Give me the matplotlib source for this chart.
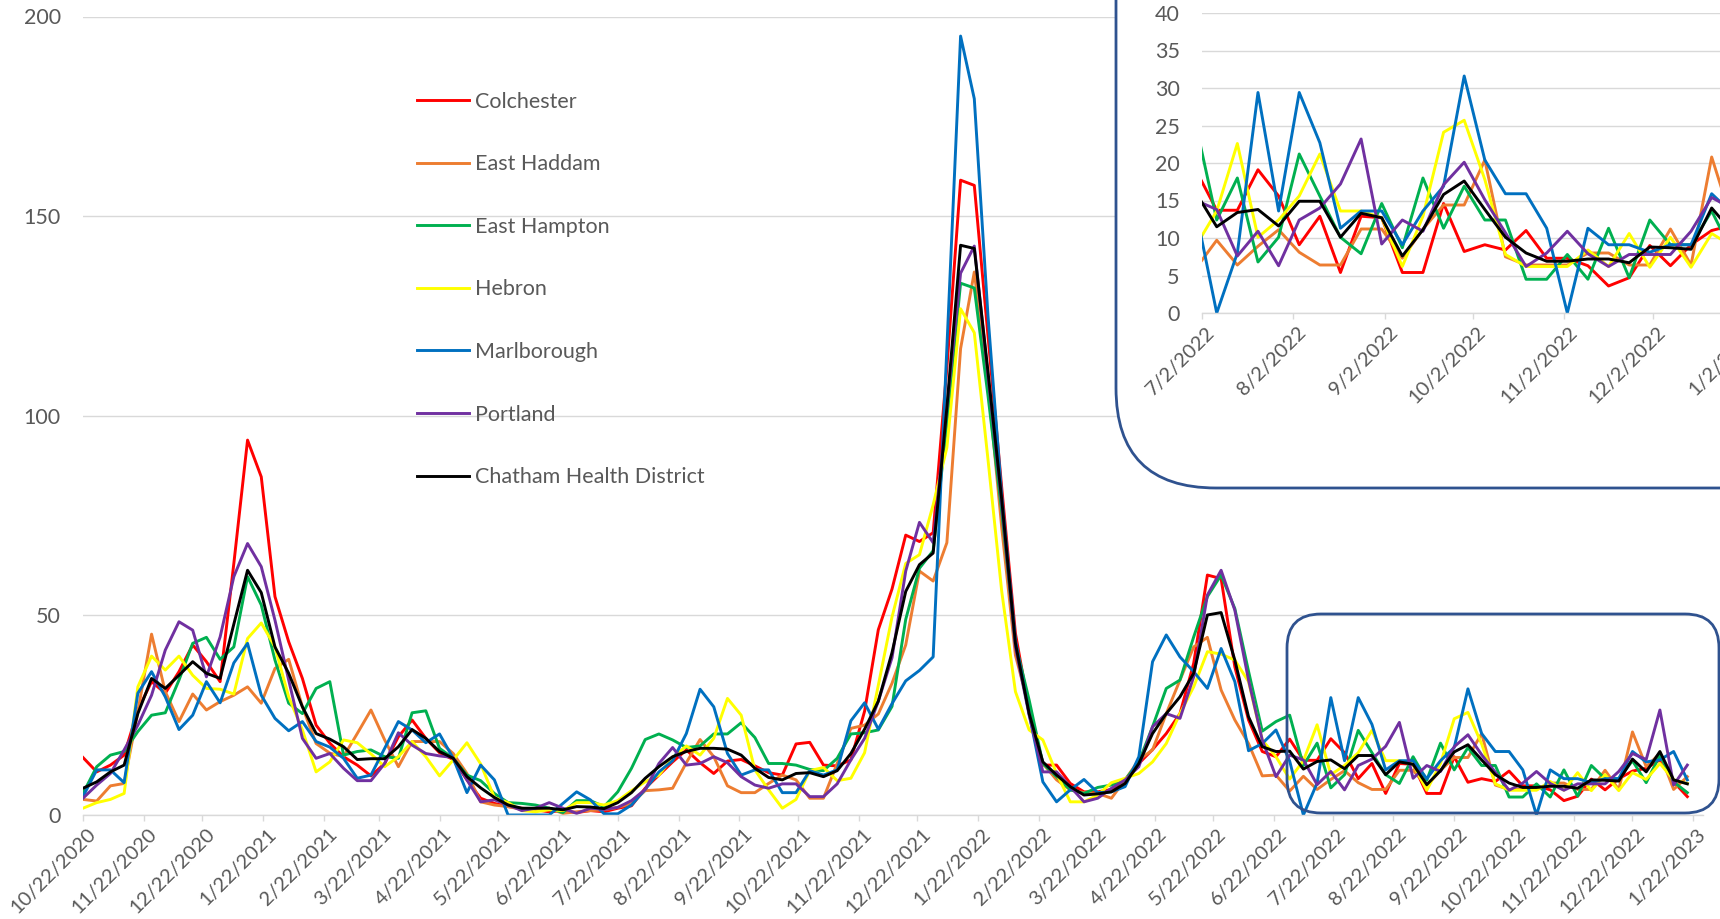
import matplotlib.pyplot as plt
import matplotlib.transforms as mtransforms
import pandas as pd
from matplotlib.patches import FancyBboxPatch

# weekly rates, one point per Thursday starting 10/22/2020
START = "2020-10-22"
TOWNS = ["Colchester", "East Haddam", "East Hampton", "Hebron",
         "Marlborough", "Portland", "Chatham Health District"]
COLORS = ["#FF0000", "#ED7D31", "#00B050", "#FFFF00",
          "#0070C0", "#7030A0", "#000000"]

colchester = [
    14.4, 10.8, 12.5, 15.0, 26.3, 33.4, 30.5, 35.9, 42.6, 38.4,
    33.4, 63.0, 93.9, 84.7, 54.7, 43.4, 34.2, 22.5, 18.0, 14.6,
    12.5, 9.8, 12.9, 19.6, 23.8, 19.2, 15.6, 13.9, 8.8, 4.2,
    2.9, 2.1, 1.7, 1.3, 0.8, 1.1, 0.6, 1.1, 0.8, 1.7,
    2.3, 6.7, 10.0, 13.3, 16.3, 13.1, 10.4, 13.5, 13.9, 12.3,
    10.6, 10.0, 17.8, 18.2, 12.5, 12.3, 13.8, 26.0, 46.4, 56.6,
    70.1, 68.5, 70.7, 112, 159.0, 157.7, 120, 82, 45.5, 26.3,
    12.5, 12.5, 7.9, 5.8, 5.8, 6.4, 8.3, 12.9, 16.4, 20.4,
    25.4, 38.0, 60.1, 59.2, 37.1, 23.8, 15.9, 14.6, 19.0, 13.7,
    13.7, 19.1, 15.6, 9.1, 12.9, 5.4, 12.9, 12.7, 5.4, 5.4,
    14.6, 8.2, 9.1, 8.4, 11.0, 7.3, 7.3, 6.3, 3.6, 4.7,
    9.0, 6.3, 9.1, 11.0, 11.7, 13.8, 8.3, 4.6,
]
east_haddam = [
    3.9, 3.5, 7.3, 7.9, 25.9, 45.3, 30.9, 23.4, 30.3, 26.3,
    28.4, 30.0, 32.1, 28.0, 36.7, 39.0, 27.1, 17.9, 15.5, 14.6,
    20.4, 26.3, 18.8, 12.1, 18.4, 18.4, 18.4, 15.4, 10.4, 3.3,
    2.5, 2.1, 1.4, 1.1, 1.7, 0.4, 0.8, 1.1, 1.3, 1.9,
    2.9, 6.1, 6.3, 6.7, 13.1, 18.9, 14.6, 7.3, 5.6, 5.6,
    7.9, 10.0, 8.8, 4.2, 4.2, 12.9, 21.7, 22.5, 25.3, 33.0,
    42.6, 61.1, 58.6, 68.2, 116.8, 136.0, 108, 72, 40, 27,
    12.9, 8.8, 6.3, 5.6, 5.4, 4.2, 8.8, 13.8, 16.3, 25.4,
    33.8, 42.1, 44.5, 31.3, 23.8, 17.9, 9.8, 10.0, 6.0, 9.7,
    6.4, 8.9, 11.1, 8.1, 6.4, 6.4, 11.2, 11.2, 7.3, 11.2,
    14.4, 14.4, 20.4, 7.5, 6.4, 6.4, 6.4, 8.0, 8.0, 6.4,
    6.4, 11.2, 6.4, 20.8, 12.1, 15.4, 6.4, 9.6,
]
east_hampton = [
    5.4, 12.1, 15.0, 15.9, 20.9, 25.0, 25.6, 33.8, 43.0, 44.5,
    39.0, 42.1, 59.7, 52.6, 38.8, 28.0, 25.4, 31.7, 33.4, 15.0,
    15.9, 16.3, 14.6, 14.2, 25.6, 26.1, 16.7, 14.2, 10.0, 8.6,
    5.4, 3.1, 2.9, 2.5, 1.7, 0.6, 3.6, 3.6, 2.1, 5.8,
    11.7, 18.9, 20.3, 18.8, 16.9, 17.3, 20.3, 20.3, 23.1, 19.4,
    12.9, 12.9, 12.5, 11.4, 11.1, 14.2, 20.3, 20.6, 21.3, 27.2,
    49.0, 61.8, 66.2, 98, 133.2, 132.0, 105, 76, 43, 28.8,
    12.9, 9.6, 6.3, 5.4, 6.9, 7.5, 8.8, 13.3, 22.1, 31.7,
    33.8, 44.6, 54.7, 60.1, 51.7, 36.0, 21.0, 23.4, 25.0, 12.4,
    18.0, 6.8, 10.1, 21.2, 15.6, 10.1, 7.9, 14.6, 8.7, 18.0,
    11.3, 16.9, 12.4, 12.4, 4.5, 4.5, 7.8, 4.5, 11.3, 4.7,
    12.4, 9.1, 9.1, 13.6, 8.1, 15.0, 8.3, 5.6,
]
hebron = [
    1.7, 3.1, 3.9, 5.4, 32.1, 39.8, 36.3, 39.8, 35.0, 31.7,
    31.5, 30.3, 44.2, 48.1, 42.1, 29.6, 21.3, 10.8, 13.3, 18.8,
    18.1, 15.3, 12.1, 14.6, 18.4, 14.6, 9.8, 13.8, 18.1, 12.8,
    4.4, 3.1, 1.1, 0.8, 1.3, 1.1, 3.1, 3.1, 2.5, 3.6,
    6.1, 8.3, 10.0, 14.4, 17.3, 15.0, 19.2, 29.2, 25.0, 11.3,
    6.3, 1.7, 3.9, 11.1, 11.9, 8.6, 9.2, 15.6, 32.5, 49.6,
    63.0, 65.2, 77.7, 92, 126.8, 120.8, 89, 56, 30.9, 21.3,
    18.8, 10.4, 3.3, 3.3, 5.0, 8.1, 9.2, 10.4, 13.3, 17.9,
    25.4, 32.1, 40.9, 40.3, 38.8, 33.4, 18.8, 14.6, 9.0, 13.6,
    22.6, 10.1, 12.4, 15.6, 21.2, 13.6, 13.6, 12.7, 6.2, 12.9,
    24.1, 25.7, 17.8, 7.8, 6.2, 6.2, 6.2, 8.4, 6.2, 10.6,
    6.1, 10.1, 6.1, 10.6, 8.9, 12.9, 8.8, 7.9,
]
marlborough = [
    4.6, 11.3, 11.3, 8.1, 30.5, 35.9, 29.6, 21.4, 25.0, 33.4,
    28.1, 38.1, 43.0, 30.0, 24.2, 21.1, 23.4, 18.4, 17.0, 14.2,
    9.2, 10.0, 16.7, 23.4, 21.3, 18.1, 20.3, 14.2, 5.6, 12.5,
    8.8, 0, 0, 0, 0, 2.9, 5.8, 3.8, 0.3, 0.3,
    2.5, 6.4, 10.8, 13.6, 20.4, 31.5, 27.1, 15.4, 10.0, 11.3,
    11.3, 5.6, 5.6, 11.1, 10.0, 11.3, 23.6, 28.1, 21.5, 27.9,
    33.6, 36.2, 39.6, 117, 195.1, 179.4, 125, 80, 43.8, 25.4,
    8.3, 3.3, 6.3, 8.9, 5.6, 5.8, 7.1, 14.6, 38.4, 45.1,
    39.6, 35.9, 31.7, 41.7, 33.4, 16.1, 17.9, 21.3, 13.5, 0,
    8, 29.4, 13.6, 29.4, 22.7, 11.3, 13.6, 13.6, 9.1, 13.6,
    16.9, 31.6, 20.4, 15.9, 15.9, 11.3, 0, 11.3, 9.1, 9.1,
    8.1, 9.1, 9.1, 15.9, 13.3, 13.8, 15.9, 8.8,
]
portland = [
    4.2, 7.5, 10.4, 16.3, 22.5, 30.0, 41.3, 48.4, 46.3, 34.6,
    44.6, 59.7, 68.0, 62.2, 48.8, 33.8, 19.2, 14.2, 15.4, 11.7,
    8.6, 8.6, 12.9, 20.6, 17.5, 15.4, 14.8, 14.4, 8.8, 3.3,
    3.8, 2.5, 1.1, 1.7, 3.1, 1.7, 0.4, 1.7, 1.4, 1.9,
    3.6, 6.4, 12.9, 16.9, 12.5, 12.9, 14.6, 13.1, 9.6, 7.5,
    6.7, 7.8, 7.8, 4.6, 4.6, 7.8, 13.8, 19.2, 28.5, 39.4,
    61.1, 73.3, 68.2, 102, 135.7, 142.5, 110, 78, 42, 25,
    10.8, 10.8, 7.1, 3.3, 4.2, 6.7, 8.8, 12.1, 22.1, 25.4,
    24.2, 34.6, 55.1, 61.3, 51.3, 33.8, 18.8, 9.6, 15.0, 13.8,
    7.6, 10.9, 6.3, 12.4, 14.0, 17.2, 23.2, 9.2, 12.4, 10.9,
    17.1, 20.1, 15.1, 10.7, 6.2, 8.0, 10.9, 7.9, 6.2, 7.8,
    7.8, 7.8, 10.9, 15.4, 13.9, 26.3, 7.5, 12.5,
]
chatham = [
    6.7, 8.3, 10.8, 12.5, 25.4, 34.2, 31.7, 35.0, 38.4, 35.5,
    34.2, 47.8, 61.3, 55.7, 42.1, 35.5, 27.1, 20.4, 19.0, 17.1,
    13.9, 14.1, 14.1, 17.1, 21.4, 19.2, 15.9, 14.2, 9.6, 6.8,
    4.4, 2.5, 1.7, 1.7, 1.7, 1.3, 2.1, 2.0, 1.6, 3.1,
    5.6, 9.2, 12.1, 14.6, 15.9, 16.7, 16.7, 16.5, 15.0, 11.7,
    9.4, 8.8, 10.4, 10.6, 9.6, 11.1, 15.4, 21.5, 28.5, 40.7,
    56.0, 62.7, 65.6, 102, 142.7, 141.9, 111, 79, 43.0, 25.4,
    13.3, 10.0, 7.1, 5.0, 5.3, 5.8, 7.9, 12.9, 20.4, 25.4,
    29.6, 35.5, 50.1, 50.7, 38.8, 24.6, 17.1, 15.9, 16.0, 11.5,
    13.4, 13.8, 11.6, 14.9, 14.9, 10.1, 13.3, 12.7, 7.6, 11.1,
    15.8, 17.6, 13.8, 10.1, 8.0, 6.9, 6.9, 7.2, 7.2, 6.7,
    8.8, 8.7, 8.5, 14.0, 10.8, 15.9, 8.8, 7.8,
]

SERIES = [colchester, east_haddam, east_hampton, hebron,
          marlborough, portland, chatham]

MAIN_TICKS = pd.date_range("2020-10-22", "2023-01-22", freq=pd.DateOffset(months=1))
INSET_TICKS = pd.date_range("2022-07-02", "2023-01-02", freq=pd.DateOffset(months=1))

GRID = "#D9D9D9"
TEXT = "#595959"
OUTLINE = "#2F528F"
FS = 15.5
XFS = 14.5
W, H = 1720, 919

plt.rcParams["font.family"] = ["Lato", "DejaVu Sans"]


def mdy(d):
    return f"{d.month}/{d.day}/{d.year}"


def style_axes(ax, ticks, ymax, ystep):
    for name, spine in ax.spines.items():
        spine.set_visible(name == "bottom")
    ax.spines["bottom"].set_color(GRID)
    ax.spines["bottom"].set_linewidth(1.0)
    ax.set_ylim(0, ymax)
    ax.set_yticks(range(0, ymax + 1, ystep))
    ax.yaxis.grid(True, color=GRID, linewidth=1.0)
    ax.set_axisbelow(True)
    ax.tick_params(axis="y", length=0, pad=16, labelsize=FS, labelcolor=TEXT)
    ax.tick_params(axis="x", length=4, width=1.0, color=GRID, pad=2,
                   labelsize=XFS, labelcolor=TEXT)
    ax.set_xticks(ticks)
    ax.set_xticklabels([mdy(d) for d in ticks], rotation=45, ha="right",
                       va="top", rotation_mode="anchor")
    shift = mtransforms.ScaledTranslation(4 / 100, -2 / 100, ax.figure.dpi_scale_trans)
    for lab in ax.get_xticklabels():
        lab.set_transform(lab.get_transform() + shift)


fig = plt.figure(figsize=(W / 100, H / 100), dpi=100)
weeks = pd.date_range(START, periods=len(chatham), freq="7D")

# main chart
ax = fig.add_axes([83 / W, (H - 815) / H, 1620 / W, 798.5 / H], zorder=0)
for town, color, vals in zip(TOWNS, COLORS, SERIES):
    ax.plot(weeks, vals, color=color, linewidth=2.1, label=town)
ax.set_xlim(pd.Timestamp(START), pd.Timestamp(START) + pd.Timedelta(days=827))
style_axes(ax, MAIN_TICKS, 200, 50)
ax.legend(loc="upper left", bbox_to_anchor=(417 / W, 1 - 91.5 / H),
          bbox_transform=fig.transFigure, frameon=False, fontsize=FS,
          labelcolor=TEXT, handlelength=2.4, handletextpad=0.3,
          labelspacing=1.98, borderpad=0, borderaxespad=0)

# rounded highlight over the last months
fig.patches.append(FancyBboxPatch(
    (12.87, 1.06), 4.32, 1.99, boxstyle="round,pad=0,rounding_size=0.34",
    transform=fig.dpi_scale_trans, facecolor="none", edgecolor=OUTLINE,
    linewidth=2.0, zorder=1, figure=fig))

# inset panel, partly off the right edge
fig.patches.append(FancyBboxPatch(
    (11.16, 4.31), 8.0, 6.0, boxstyle="round,pad=0,rounding_size=1.0",
    transform=fig.dpi_scale_trans, facecolor="white", edgecolor=OUTLINE,
    linewidth=2.0, zorder=2, figure=fig))

ins = fig.add_axes([1202 / W, (H - 313) / H, 601 / W, 300 / H], zorder=3)
ins.patch.set_alpha(0)
for town, color, vals in zip(TOWNS, COLORS, SERIES):
    ins.plot(weeks, vals, color=color, linewidth=2.1)
ins.set_xlim(pd.Timestamp("2022-07-02"), pd.Timestamp("2023-01-22"))
style_axes(ins, INSET_TICKS, 40, 5)

fig.savefig("out.png", dpi=100)
